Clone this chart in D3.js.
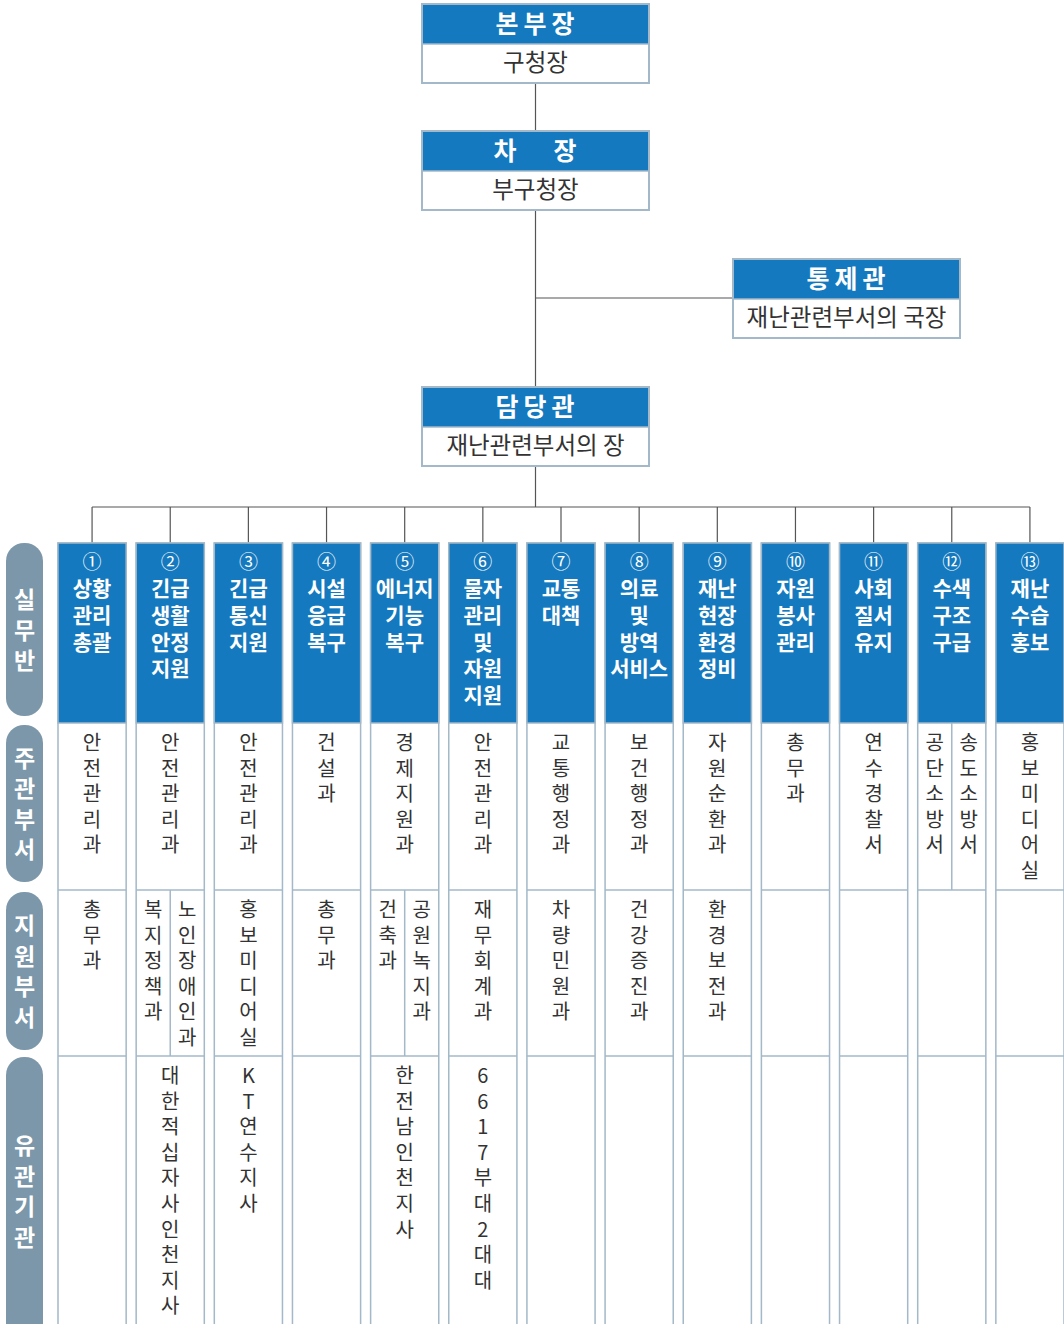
<!DOCTYPE html>
<html>
<head>
<meta charset="utf-8">
<script src="https://cdn.jsdelivr.net/npm/d3@7"></script>
<style>
  html, body { margin: 0; padding: 0; background: #fff; }
  svg { display: block; }
</style>
</head>
<body>
<svg id="org_svg"></svg>
<script>
// command chain boxes
const commandTitles = ["본부장", "차   장", "통제관", "담당관"];
const commandRoles = ["구청장", "부구청장", "재난관련부서의 국장", "재난관련부서의 장"];

// working groups
const groupNumbers = ["①", "②", "③", "④", "⑤", "⑥", "⑦", "⑧", "⑨", "⑩", "⑪", "⑫", "⑬"];
const groupNames = [
    ["상황", "관리", "총괄"],
    ["긴급", "생활", "안정", "지원"],
    ["긴급", "통신", "지원"],
    ["시설", "응급", "복구"],
    ["에너지", "기능", "복구"],
    ["물자", "관리", "및", "자원", "지원"],
    ["교통", "대책"],
    ["의료", "및", "방역", "서비스"],
    ["재난", "현장", "환경", "정비"],
    ["자원", "봉사", "관리"],
    ["사회", "질서", "유지"],
    ["수색", "구조", "구급"],
    ["재난", "수습", "홍보"]
];
const leadDepts = [
    ["안전관리과"], ["안전관리과"], ["안전관리과"], ["건설과"], ["경제지원과"],
    ["안전관리과"], ["교통행정과"], ["보건행정과"], ["자원순환과"], ["총무과"],
    ["연수경찰서"], ["공단소방서", "송도소방서"], ["홍보미디어실"]
];
const supportDepts = [
    ["총무과"], ["복지정책과", "노인장애인과"], ["홍보미디어실"], ["총무과"],
    ["건축과", "공원녹지과"], ["재무회계과"], ["차량민원과"], ["건강증진과"],
    ["환경보전과"], [], [], [], []
];
const relatedOrgs = [
    [], ["대한적십자사인천지사"], ["KT연수지사"], [], ["한전남인천지사"],
    ["6617부대2대대"], [], [], [], [], [], [], []
];
const rowLabels = ["실무반", "주관부서", "지원부서", "유관기관"];

// layout
const W = 1064, H = 1324;
const blue = "#1479be";
const edge = "#a3b8c8";
const pillColor = "#7b97a9";
const ink = "#333";
const font = "'Noto Sans CJK KR', 'Noto Sans', sans-serif";

const svg = d3.select("#org_svg").attr("width", W).attr("height", H)
    .style("font-family", font);

// stacked text as one element: one tspan per line
const stack = (sel, items, x, y0, step) => {
    sel.selectAll("tspan")
        .data(items)
        .enter().append("tspan")
        .attr("x", x)
        .attr("y", (t, j) => y0 + j * step)
        .text(t => t);
};

// top boxes
const boxW = 227, boxHead = 40, boxBody = 39;
const boxPos = [[422, 4], [422, 131], [733, 259], [422, 387]];
const centerX = 422 + boxW / 2;

const lines = svg.append("g").attr("stroke", "#555").attr("stroke-width", 1.2).attr("fill", "none");
lines.append("line").attr("x1", centerX).attr("x2", centerX).attr("y1", 83).attr("y2", 131);
lines.append("line").attr("x1", centerX).attr("x2", centerX).attr("y1", 210).attr("y2", 387);
lines.append("line").attr("x1", centerX).attr("x2", 733).attr("y1", 298).attr("y2", 298);
lines.append("line").attr("x1", centerX).attr("x2", centerX).attr("y1", 465).attr("y2", 507);

const boxes = svg.append("g").selectAll("g")
    .data(commandTitles.map((t, i) => ({ title: t, role: commandRoles[i], pos: boxPos[i] })))
    .enter().append("g")
    .attr("transform", d => `translate(${d.pos[0]}, ${d.pos[1]})`);

boxes.append("rect")
    .attr("width", boxW).attr("height", boxHead + boxBody)
    .attr("fill", "#fff").attr("stroke", edge).attr("stroke-width", 2);
boxes.append("rect")
    .attr("x", 1).attr("y", 1).attr("width", boxW - 2).attr("height", boxHead - 1)
    .attr("fill", blue);
boxes.append("line")
    .attr("x1", 0).attr("x2", boxW).attr("y1", boxHead).attr("y2", boxHead)
    .attr("stroke", edge).attr("stroke-width", 1.5);
boxes.append("text")
    .attr("x", boxW / 2 + 2).attr("y", boxHead / 2 - 2)
    .attr("text-anchor", "middle").attr("dominant-baseline", "central")
    .attr("fill", "#fff").attr("font-size", 25).attr("font-weight", "bold")
    .attr("letter-spacing", 5)
    .style("white-space", "pre")
    .text(d => d.title);
boxes.append("text")
    .attr("x", boxW / 2).attr("y", boxHead + boxBody / 2 - 3)
    .attr("text-anchor", "middle").attr("dominant-baseline", "central")
    .attr("fill", ink).attr("font-size", 23.5)
    .text(d => d.role);

// columns
const xScale = d3.scaleBand()
    .domain(d3.range(groupNames.length))
    .range([58, 1064])
    .paddingInner(0.128)
    .paddingOuter(0);
const bw = xScale.bandwidth();
const cx = i => xScale(i) + bw / 2;

const rowTop = [543, 723, 890, 1056, 1340];

// bus line
lines.append("line")
    .attr("x1", cx(0)).attr("x2", cx(groupNames.length - 1))
    .attr("y1", 507).attr("y2", 507);
lines.selectAll(".drop")
    .data(d3.range(groupNames.length))
    .enter().append("line")
    .attr("x1", cx).attr("x2", cx).attr("y1", 507).attr("y2", rowTop[0]);

const cols = svg.append("g").selectAll("g")
    .data(d3.range(groupNames.length))
    .enter().append("g");

// column outline
cols.append("rect")
    .attr("x", d => xScale(d)).attr("y", rowTop[0])
    .attr("width", bw).attr("height", rowTop[4] - rowTop[0])
    .attr("fill", "#fff").attr("stroke", edge).attr("stroke-width", 1.5);
// blue header
cols.append("rect")
    .attr("x", d => xScale(d)).attr("y", rowTop[0])
    .attr("width", bw).attr("height", rowTop[1] - rowTop[0])
    .attr("fill", blue).attr("stroke", edge).attr("stroke-width", 1.5);
// row separators
[rowTop[2], rowTop[3]].forEach(y => {
    cols.append("line")
        .attr("x1", d => xScale(d)).attr("x2", d => xScale(d) + bw)
        .attr("y1", y).attr("y2", y)
        .attr("stroke", edge).attr("stroke-width", 1.5);
});

// header text
cols.append("text")
    .attr("x", cx).attr("y", 560)
    .attr("text-anchor", "middle").attr("dominant-baseline", "central")
    .attr("fill", "#fff").attr("font-size", 19)
    .text(d => groupNumbers[d]);
cols.each(function (d) {
    d3.select(this).append("text")
        .attr("text-anchor", "middle").attr("dominant-baseline", "central")
        .attr("fill", "#fff").attr("font-size", 21).attr("font-weight", "bold")
        .call(stack, groupNames[d], cx(d), 587, 26.8);
});

// vertical stacked cell texts
const drawCell = (g, i, names, top, bottom) => {
    if (!names.length) return;
    const n = names.length;
    const sub = bw / n;
    for (let k = 1; k < n; k++) {
        g.append("line")
            .attr("x1", xScale(i) + sub * k).attr("x2", xScale(i) + sub * k)
            .attr("y1", top).attr("y2", bottom)
            .attr("stroke", edge).attr("stroke-width", 1.5);
    }
    names.forEach((name, k) => {
        const x = xScale(i) + sub * k + sub / 2;
        g.append("text")
            .attr("text-anchor", "middle").attr("dominant-baseline", "central")
            .attr("fill", ink).attr("font-size", 20)
            .call(stack, Array.from(name), x, top + 18, 25.6);
    });
};

cols.each(function (d) {
    const g = d3.select(this);
    drawCell(g, d, leadDepts[d], rowTop[1], rowTop[2]);
    drawCell(g, d, supportDepts[d], rowTop[2], rowTop[3]);
    drawCell(g, d, relatedOrgs[d], rowTop[3], rowTop[4]);
});

// row labels (pills)
const pillTop = [543, 725, 892, 1057];
const pillBottom = [716, 882, 1050, 1325];
const pills = svg.append("g").selectAll("g")
    .data(rowLabels)
    .enter().append("g");
pills.append("rect")
    .attr("x", 6).attr("width", 37)
    .attr("y", (d, i) => pillTop[i])
    .attr("height", (d, i) => (i === 3 ? 1360 : pillBottom[i]) - pillTop[i])
    .attr("rx", 18).attr("ry", 18)
    .attr("fill", pillColor);
pills.each(function (d, i) {
    const chars = Array.from(d);
    const mid = (pillTop[i] + pillBottom[i]) / 2;
    const step = 30.5;
    d3.select(this).append("text")
        .attr("text-anchor", "middle").attr("dominant-baseline", "central")
        .attr("fill", "#fff").attr("font-size", 23).attr("font-weight", "bold")
        .call(stack, chars, 24.5, mid - (chars.length - 1) / 2 * step - 1, step);
});
</script>
</body>
</html>
